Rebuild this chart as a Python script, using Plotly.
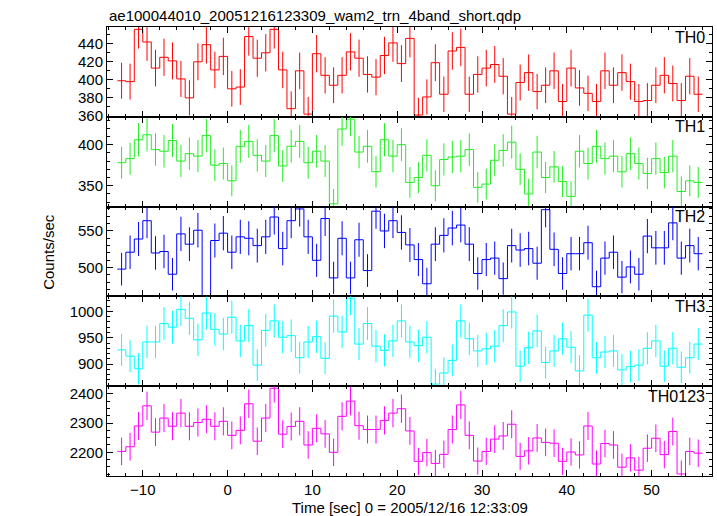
import numpy as np
import plotly.graph_objects as go
from plotly.subplots import make_subplots

# ---- data: 1-s bins, first bin starts at t = -13 s ----
BIN_START = -13.0
BIN_WIDTH = 1.0

th0 = [399, 398, 456, 442, 413, 425, 421, 401, 380, 420, 439, 411, 426,
       390, 392, 448, 424, 430, 456, 411, 368, 410, 362, 429, 405, 394,
       405, 431, 424, 406, 403, 427, 441, 418, 446, 361, 381, 419, 384,
       432, 436, 384, 406, 413, 417, 404, 362, 397, 408, 387, 394, 410,
       376, 413, 391, 385, 376, 410, 394, 408, 398, 376, 377, 394, 405,
       396, 377, 404, 384]

th1 = [378, 383, 406, 412, 394, 392, 405, 380, 389, 386, 411, 375, 377,
       356, 398, 404, 387, 380, 411, 374, 398, 404, 378, 392, 380, 328,
       419, 431, 391, 398, 367, 406, 386, 400, 354, 360, 387, 350, 382,
       385, 386, 394, 348, 352, 381, 393, 403, 370, 340, 391, 360, 373,
       355, 337, 392, 377, 398, 383, 386, 367, 389, 377, 365, 383, 366,
       386, 343, 356, 354]

th2 = [498, 521, 539, 564, 520, 522, 491, 546, 532, 551, 435, 537, 547,
       521, 542, 540, 530, 542, 569, 526, 564, 580, 542, 510, 567, 486,
       540, 486, 538, 496, 577, 550, 564, 548, 531, 511, 478, 532, 544,
       554, 558, 532, 492, 511, 513, 485, 530, 524, 526, 506, 579, 525,
       492, 519, 519, 534, 474, 513, 521, 487, 501, 491, 543, 527, 527,
       561, 513, 530, 519]

th3 = [927, 915, 891, 942, 942, 977, 970, 1004, 987, 946, 997, 966, 957,
       989, 944, 973, 898, 964, 982, 951, 954, 912, 942, 952, 911, 991,
       961, 1025, 938, 977, 934, 926, 944, 982, 942, 935, 951, 862, 883,
       907, 982, 948, 925, 929, 934, 973, 999, 896, 931, 963, 903, 925,
       948, 932, 887, 993, 912, 923, 925, 889, 895, 898, 930, 944, 896,
       930, 894, 912, 938]

th0123 = [2203, 2219, 2290, 2359, 2269, 2317, 2289, 2334, 2289, 2302, 2313,
          2289, 2306, 2258, 2275, 2366, 2238, 2317, 2419, 2262, 2288, 2306,
          2225, 2282, 2263, 2200, 2323, 2375, 2291, 2278, 2278, 2309, 2334,
          2349, 2273, 2169, 2199, 2162, 2193, 2278, 2362, 2258, 2170, 2203,
          2245, 2256, 2296, 2186, 2205, 2249, 2234, 2231, 2169, 2201, 2191,
          2290, 2160, 2230, 2225, 2149, 2181, 2139, 2214, 2248, 2192, 2271,
          2126, 2203, 2197]

panel_names = ["TH0", "TH1", "TH2", "TH3", "TH0123"]
panel_data = [th0, th1, th2, th3, th0123]
panel_colors = ["#ff0000", "#22ee22", "#0000ff", "#00ffff", "#ff00ff"]
panel_ranges = [[359, 458.6], [324.6, 433.9], [460.8, 583.2], [858, 1028.5], [2119, 2426]]
panel_dtick = [20, 50, 50, 50, 100]
panel_minor = [10, 10, 10, 10, 25]

TITLE = "ae100044010_20051216123309_wam2_trn_4band_short.qdp"
XTITLE = "Time [sec] 0 = 2005/12/16 12:33:09"
YTITLE = "Counts/sec"

FONT = "Liberation Sans, Arial, Helvetica, sans-serif"

n_bins = len(th0)
edges = BIN_START + BIN_WIDTH * np.arange(n_bins + 1)
centers = edges[:-1] + BIN_WIDTH / 2

fig = make_subplots(rows=5, cols=1, shared_xaxes=True, vertical_spacing=0)

for i, (name, vals, col) in enumerate(zip(panel_names, panel_data, panel_colors)):
    r = i + 1
    v = np.array(vals, dtype=float)
    err = np.sqrt(v)  # Poisson errors (1-s bins)
    # step histogram
    fig.add_trace(go.Scatter(x=edges, y=np.append(v, v[-1]), mode="lines",
                             line=dict(color=col, width=1, shape="hv"),
                             showlegend=False, hoverinfo="skip"), row=r, col=1)
    # error bars as vertical segments at the bin centres
    ex, ey = [], []
    for c, val, e in zip(centers, v, err):
        ex += [c, c, None]
        ey += [val - e, val + e, None]
    fig.add_trace(go.Scatter(x=ex, y=ey, mode="lines",
                             line=dict(color=col, width=1),
                             showlegend=False, hoverinfo="skip"), row=r, col=1)
    fig.update_yaxes(range=panel_ranges[i], dtick=panel_dtick[i], tick0=0,
                     ticks="inside", ticklen=6, tickwidth=1, tickcolor="black",
                     minor=dict(dtick=panel_minor[i], tick0=0, ticks="inside",
                                ticklen=3, tickcolor="black"),
                     showline=True, linecolor="black", linewidth=1,
                     mirror="allticks", showgrid=False, zeroline=False,
                     tickfont=dict(family=FONT, size=15, color="black"),
                     row=r, col=1)
    fig.update_xaxes(range=[-14.22, 57.12], dtick=10, tick0=0,
                     ticks="inside", ticklen=6, tickwidth=1, tickcolor="black",
                     minor=dict(dtick=2, tick0=0, ticks="inside", ticklen=3,
                                tickcolor="black"),
                     showline=True, linecolor="black", linewidth=1,
                     mirror="allticks", showgrid=False, zeroline=False,
                     tickfont=dict(family=FONT, size=15, color="black"),
                     row=r, col=1)
    fig.add_annotation(text=name, xref="x domain" if r == 1 else f"x{r} domain",
                       yref="y domain" if r == 1 else f"y{r} domain",
                       x=1, y=1, xanchor="right", yanchor="middle",
                       xshift=-5, yshift=-10, showarrow=False,
                       font=dict(family=FONT, size=16, color="black"))

fig.add_annotation(text=TITLE, xref="paper", yref="paper", x=0, y=1,
                   xanchor="left", yanchor="middle", yshift=12, showarrow=False,
                   font=dict(family=FONT, size=15, color="black"))
fig.add_annotation(text=XTITLE, xref="paper", yref="paper", x=0.5, y=0,
                   xanchor="center", yanchor="middle", yshift=-31, showarrow=False,
                   font=dict(family=FONT, size=15, color="black"))
fig.add_annotation(text=YTITLE, xref="paper", yref="paper", x=-0.097, y=0.5,
                   xanchor="center", yanchor="middle", textangle=-90, showarrow=False,
                   font=dict(family=FONT, size=15, color="black"))

fig.update_layout(width=717, height=516,
                  margin=dict(l=107, r=5, t=27, b=40),
                  paper_bgcolor="white", plot_bgcolor="white",
                  font=dict(family=FONT, size=15, color="black"),
                  showlegend=False)

fig.write_html("out.html",
               config={"displayModeBar": False},
               post_script="document.body.style.margin='0px';"
                           "document.body.style.padding='0px';"
                           "document.body.style.overflow='hidden';")
